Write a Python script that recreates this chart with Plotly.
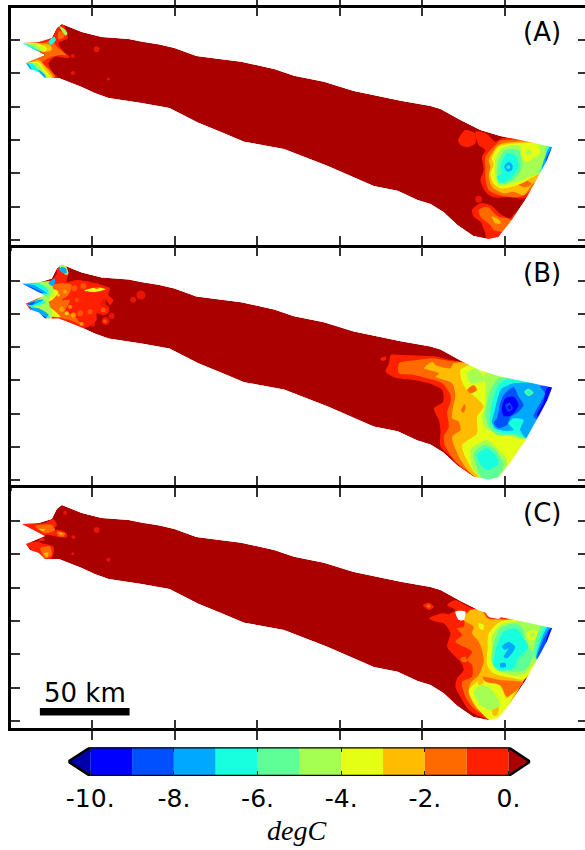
import plotly.graph_objects as go

# ---- colour classes of the map (degC), lowest to highest ----
LEVELS = [-10, -9, -8, -7, -6, -5, -4, -3, -2, -1, 0]
BAND_COLORS = ["#0000ff", "#0050ff", "#00a8ff", "#18ffe0", "#5fff98",
               "#a5ff52", "#e5ff14", "#ffbc00", "#ff6a00", "#ff2000"]
UNDER_COLOR = "#0000aa"
OVER_COLOR = "#aa0000"
CB_TICKS = [-10, -8, -6, -4, -2, 0]
CB_LABELS = ["-10.", "-8.", "-6.", "-4.", "-2.", "0."]
BAND = {"U": 0, "B": 1, "S": 2, "C": 3, "M": 4, "L": 5, "Y": 6, "G": 7, "O": 8, "R": 9}

# ---- glacier outline, digitised (map units, panel A) ----
OUTLINE_X = [60, 70, 80, 100, 127, 140, 158, 173, 184, 195, 218, 240, 273, 293, 323, 353, 400, 430, 440, 460, 480, 500, 520, 537, 552,
             547, 540, 525, 510, 498, 488, 473, 457, 443, 430, 417, 397, 373, 350, 327, 283, 243, 220, 197, 168, 140,
             107, 93, 80, 57, 43, 37, 28, 24, 43, 20, 37, 50, 55]
OUTLINE_Y = [24, 28, 32, 37, 39, 41.7, 44.5, 48, 52, 56, 59, 61.7, 69, 75.7, 81.7, 91, 100.7, 106, 109, 120, 130, 136, 140, 143.5, 147,
             160, 173, 200, 222, 237, 239, 236, 225, 212, 204, 200, 190.7, 186, 176, 166, 149, 141.7, 132, 122.7, 108, 103,
             98, 93, 87, 78, 78, 72, 69, 63, 55, 43, 42, 38, 28]
PANEL_SHIFT = {"A": 0.0, "B": 240.5, "C": 481.0}

# ---- filled contour regions: (class, [(x, y), ...]) digitised, painter's order ----
A_EAST = [
    ("R", [(135,65),(165,68),(195,95),(215,85),(280,85),(380,100),(340,200),(285,265),(240,262),(190,262),(165,245),(150,210),(160,180),(155,140),(165,120),(145,105)]),
    ("R", [(83,90),(105,60),(133,70),(135,100),(112,112),(90,105)]),
    ("R", [(125,300),(150,280),(180,285),(215,315),(240,325),(255,310),(300,310),(230,410),(170,395),(165,370),(150,335),(130,320)]),
    ("O", [(165,140),(195,105),(210,92),(265,90),(380,105),(340,195),(285,255),(260,262),(205,255),(175,240),(165,205),(165,175)]),
    ("O", [(145,300),(170,290),(205,320),(230,325),(250,335),(225,365),(190,360),(180,345),(150,320)]),
    ("G", [(175,150),(205,105),(265,95),(380,108),(340,190),(305,225),(280,255),(250,245),(220,250),(185,230),(175,195),(180,170)]),
    ("G", [(185,320),(200,325),(212,340),(195,340)]),
    ("O", [(262,222),(290,212),(305,222),(285,232)]),
    ("Y", [(185,145),(205,110),(265,100),(380,108),(335,185),(300,205),(285,215),(245,230),(210,235),(190,220),(180,190),(190,165)]),
    ("L", [(195,150),(215,115),(265,105),(280,130),(290,150),(330,130),(325,100),(380,108),(330,190),(300,200),(245,220),(205,225),(195,195)]),
    ("Y", [(272,125),(295,108),(322,112),(315,135),(295,155),(280,150)]),
    ("L", [(285,125),(300,120),(305,130),(290,135)]),
    ("M", [(205,150),(225,120),(265,120),(275,150),(275,175),(250,210),(215,220),(200,195)]),
    ("M", [(350,105),(380,105),(340,175),(325,190),(345,140)]),
    ("C", [(210,170),(230,130),(255,135),(265,165),(255,190),(235,210),(210,220),(200,200),(215,190)]),
    ("C", [(355,108),(380,105),(345,170),(330,190),(345,150)]),
    ("S", [(222,170),(235,155),(247,165),(245,180),(232,185)]),
    ("S", [(358,112),(380,105),(340,185),(335,180)]),
    ("C", [(228,170),(235,165),(240,172),(233,178)]),
    ("B", [(360,120),(380,105),(352,155),(347,150)]),
]
A_EAST_DOTS = [("R", 145, 268, 7)]

A_WEST = [
    ("R", [(165,85),(185,75),(198,115),(170,130),(190,160),(205,170),(195,174),(160,170),(140,190),(150,215),(170,235),(145,242),(120,235),(70,210),(60,188),(130,165),(50,130),(110,120),(150,112),(160,100)]),
    ("O", [(170,95),(182,95),(188,110),(170,118)]),
    ("O", [(105,132),(150,125),(170,145),(195,165),(175,165),(150,170),(130,180),(120,190),(140,205),(160,230),(150,237),(125,235),(70,210),(60,188),(130,165),(55,130)]),
    ("G", [(100,128),(145,135),(150,150),(130,155),(60,130)]),
    ("G", [(80,190),(110,180),(135,205),(155,235),(125,238),(70,210)]),
    ("Y", [(60,130),(105,130),(135,145),(130,155),(115,152)]),
    ("Y", [(70,192),(110,187),(130,210),(148,235),(125,238),(70,210)]),
    ("L", [(172,78),(185,85),(197,100),(192,107),(180,92)]),
    ("L", [(55,130),(100,133),(125,155),(115,152)]),
    ("L", [(65,190),(105,190),(125,215),(140,235),(120,235),(75,212)]),
    ("C", [(50,130),(85,136),(115,155),(90,148)]),
    ("C", [(65,190),(90,190),(120,220),(130,235),(120,235),(75,212)]),
    ("C", [(140,125),(158,110),(162,120),(148,135)]),
    ("S", [(50,130),(75,138),(110,153),(90,150)]),
    ("S", [(65,190),(80,192),(90,210),(75,212)]),
    ("S", [(110,210),(130,225),(130,235),(115,232)]),
]
A_WEST_DOTS = [("R", 285, 148, 6), ("R", 213, 168, 4), ("R", 213, 219, 4), ("R", 320, 237, 3)]

B_EAST = [
    ("R", [(60,45),(85,45),(200,50),(240,60),(300,70),(400,105),(560,135),(470,320),(400,430),(350,430),(280,390),(240,350),(210,320),(210,270),(205,240),(190,205),(218,185),(215,150),(175,130),(130,120),(80,115),(45,95),(55,70)]),
    ("R", [(30,55),(45,50),(45,60),(32,62)]),
    ("O", [(85,70),(140,60),(185,55),(230,62),(290,70),(400,105),(560,135),(470,320),(400,430),(350,430),(310,405),(260,370),(225,320),(220,290),(235,260),(230,215),(240,185),(240,165),(215,130),(170,115),(130,105),(85,100)]),
    ("G", [(160,85),(185,65),(195,75),(240,85),(250,70),(300,70),(400,105),(560,135),(470,320),(400,430),(350,430),(300,400),(265,350),(245,290),(270,270),(265,245),(245,235),(248,200),(255,165),(245,130),(205,115),(195,110),(205,100),(175,90)]),
    ("Y", [(270,90),(300,75),(400,105),(560,135),(470,320),(400,430),(350,430),(310,395),(280,340),(275,315),(320,280),(320,230),(340,200),(325,180),(290,150),(275,125)]),
    ("G", [(265,215),(280,185),(290,200),(285,225)]),
    ("O", [(272,212),(282,192),(286,202),(280,218)]),
    ("L", [(290,100),(315,85),(345,120),(300,130)]),
    ("L", [(345,100),(560,135),(480,295),(390,280),(345,265),(335,230),(345,200),(345,140)]),
    ("L", [(300,330),(325,310),(350,300),(375,320),(410,360),(405,390),(350,430),(310,390)]),
    ("O", [(290,150),(310,135),(320,150),(300,160)]),
    ("M", [(350,190),(360,150),(385,115),(410,110),(560,135),(480,295),(420,285),(380,285),(355,260),(345,225)]),
    ("M", [(310,340),(340,315),(370,325),(395,360),(400,375),(380,415),(350,430),(325,395)]),
    ("C", [(360,220),(370,170),(385,135),(410,118),(470,125),(560,135),(475,295),(445,285),(430,280),(400,280),(375,270),(360,245)]),
    ("C", [(320,345),(350,325),(375,345),(385,370),(355,390),(335,380)]),
    ("S", [(370,225),(385,165),(395,145),(430,130),(470,128),(560,135),(470,295),(450,270),(460,240),(430,235),(415,250),(430,270),(400,272),(375,265),(365,245)]),
    ("M", [(462,155),(475,146),(490,158),(475,168)]),
    ("C", [(467,156),(475,151),(483,158),(475,163)]),
    ("B", [(380,235),(390,190),(400,165),(430,142),(445,170),(460,195),(445,215),(420,232),(410,255),(385,265),(370,250)]),
    ("B", [(510,140),(560,135),(505,238),(490,230),(510,190),(525,160)]),
    ("U", [(395,205),(405,175),(430,170),(445,195),(425,225),(400,228)]),
    ("U", [(530,145),(560,135),(505,232),(500,225),(520,185)]),
    ("B", [(405,195),(418,188),(428,205),(415,215)]),
    ("U", [(411,200),(418,195),(423,205),(416,210)]),
]
B_EAST_DOTS = []

B_WEST = [
    ("R", [(165,55),(190,45),(200,70),(195,95),(230,90),(300,105),(325,115),(320,135),(335,150),(325,165),(310,145),(295,165),(320,175),(322,185),(305,195),(285,190),(285,210),(260,230),(235,235),(200,215),(155,210),(120,210),(65,165),(130,130),(50,100),(110,95),(150,90),(165,70)]),
    ("O", [(85,100),(150,105),(175,100),(210,105),(200,135),(180,150),(205,150),(190,185),(215,195),(240,225),(205,210),(155,200),(130,195),(85,165),(130,130)]),
    ("Y", [(60,103),(130,112),(170,125),(150,150),(120,160),(130,130)]),
    ("Y", [(85,168),(120,160),(155,180),(175,200),(155,200),(130,195)]),
    ("Y", [(248,122),(285,112),(312,118),(280,126)]),
    ("L", [(60,103),(105,97),(145,95),(155,125),(140,150),(150,185),(150,205),(130,205),(105,180),(80,165),(125,135)]),
    ("M", [(60,103),(110,100),(140,115),(140,140),(125,135)]),
    ("C", [(60,103),(110,100),(140,125),(125,135)]),
    ("C", [(75,162),(120,148),(130,160),(95,170),(145,200),(125,205),(100,180)]),
    ("L", [(175,45),(190,45),(200,70),(195,75),(175,60)]),
    ("S", [(180,50),(192,55),(195,70),(187,70),(172,60)]),
    ("S", [(60,103),(95,105),(135,130),(105,125)]),
    ("S", [(75,162),(110,150),(125,150),(90,165)]),
    ("S", [(85,175),(110,175),(140,195),(125,205)]),
    ("S", [(140,100),(158,85),(160,100),(150,108)]),
    ("B", [(60,103),(85,110),(125,130),(100,125)]),
    ("B", [(75,162),(100,155),(90,165)]),
    ("B", [(105,185),(120,195),(135,203),(120,205)]),
]
B_WEST_DOTS = [("R", 418, 135, 9), ("R", 395, 149, 6), ("R", 273, 223, 5),
               ("R", 300, 152, 10), ("R", 307, 178, 11), ("R", 312, 213, 8), ("R", 330, 198, 6),
               ("R", 255, 105, 8), ("R", 285, 108, 6), ("R", 230, 110, 7), ("R", 240, 205, 9),
               ("O", 218, 115, 6), ("O", 245, 108, 6), ("O", 305, 180, 5), ("O", 310, 214, 4),
               ("O", 235, 190, 6), ("O", 265, 185, 5), ("O", 225, 150, 4),
               ("G", 205, 170, 4), ("G", 215, 195, 5), ("G", 240, 222, 4), ("G", 190, 125, 4), ("G", 180, 178, 5),
               ("Y", 195, 190, 4), ("Y", 170, 135, 3)]

C_EAST = [
    ("R", [(140,45),(165,30),(195,45),(215,55),(255,62),(290,80),(350,88),(470,110),(365,280),(290,400),(250,385),(205,360),(180,320),(165,290),(170,265),(190,240),(180,215),(165,200),(140,170),(150,130),(130,100),(105,95),(85,85),(125,70),(145,72),(165,60)]),
    ("R", [(67,45),(85,38),(100,50),(85,60)]),
    ("O", [(170,115),(190,110),(195,70),(245,55),(265,85),(330,88),(470,110),(365,280),(290,400),(255,380),(215,350),(195,320),(185,275),(215,260),(215,225),(200,210),(215,185),(165,155),(185,135)]),
    ("O", [(78,47),(85,43),(90,50),(84,54)]),
    ("O", [(180,205),(195,200),(200,215),(185,215)]),
    ("G", [(190,90),(210,60),(245,62),(260,85),(330,90),(470,110),(365,280),(290,400),(260,380),(225,350),(205,310),(210,280),(235,255),(250,215),(245,180),(235,155),(215,130),(220,110)]),
    ("Y", [(265,130),(300,95),(350,88),(470,110),(372,268),(340,265),(280,250),(260,225),(262,175)]),
    ("Y", [(205,300),(225,280),(250,260),(300,290),(320,325),(350,290),(290,400),(260,385),(225,345)]),
    ("Y", [(235,100),(250,105),(248,120),(237,115)]),
    ("O", [(245,260),(300,270),(368,278),(320,320),(300,285),(255,275)]),
    ("G", [(232,265),(245,258),(250,280),(235,285)]),
    ("G", [(275,360),(295,352),(292,375),(280,378)]),
    ("L", [(275,140),(300,105),(350,95),(470,110),(375,250),(350,258),(290,240),(272,215),(275,175)]),
    ("L", [(220,305),(245,285),(275,300),(300,345),(270,360),(240,345)]),
    ("Y", [(380,130),(395,120),(418,125),(400,150),(385,150)]),
    ("L", [(388,132),(400,127),(405,135),(393,142)]),
    ("M", [(280,160),(300,115),(345,100),(370,118),(375,165),(400,190),(375,240),(340,245),(290,240),(275,215)]),
    ("M", [(425,105),(470,110),(415,195),(400,190)]),
    ("C", [(280,225),(290,165),(310,125),(345,115),(375,150),(385,170),(370,190),(355,205),(340,235),(300,240)]),
    ("C", [(435,110),(470,110),(415,205),(405,205)]),
    ("S", [(305,170),(325,155),(345,170),(335,190),(320,205),(310,200),(325,175),(315,180)]),
    ("S", [(300,220),(315,218),(317,230),(300,232)]),
    ("S", [(442,112),(470,110),(412,210),(408,205)]),
    ("B", [(447,118),(470,110),(415,205),(410,203)]),
    ("U", [(450,118),(470,110),(440,165),(437,160)]),
    ("W", [(165,65),(195,65),(190,90),(175,90)]),
    ("W", [(255,62),(300,70),(300,85),(265,80)]),
]
C_EAST_DOTS = []

C_WEST = [
    ("R", [(50,100),(125,100),(155,88),(165,105),(150,120),(175,120),(195,130),(195,142),(165,140),(130,135),(110,155),(155,170),(150,205),(125,207),(90,180),(65,160),(130,150)]),
    ("O", [(100,108),(150,105),(160,120),(130,130)]),
    ("O", [(165,125),(190,130),(185,140),(170,138)]),
    ("O", [(115,175),(145,170),(150,195),(130,205)]),
    ("G", [(110,117),(130,117),(125,124)]),
    ("G", [(125,190),(140,188),(135,202)]),
    ("G", [(172,128),(182,130),(178,136)]),
]
C_WEST_DOTS = [("R", 285, 120, 6), ("R", 190, 68, 4), ("R", 215, 142, 4), ("R", 213, 191, 3), ("R", 320, 209, 4)]

# region list: panel, crop origin, regions, dots
REGIONS = [
    ("A", 0, 0, A_WEST, A_WEST_DOTS), ("A", 430, 110, A_EAST, A_EAST_DOTS),
    ("B", 0, 250, B_WEST, B_WEST_DOTS), ("B", 370, 340, B_EAST, B_EAST_DOTS),
    ("C", 0, 490, C_WEST, C_WEST_DOTS), ("C", 400, 590, C_EAST, C_EAST_DOTS),
]
PANEL_LABELS = {"A": "(A)", "B": "(B)", "C": "(C)"}
SCALE_KM = 50
SCALE_TEXT = "50 km"
UNITS = "degC"

# ---- layout (page of 585 x 850) ----
W, H = 585, 850
LEFT = 9.5
PANEL_EDGES = {"A": (7.5, 247.5), "B": (247.5, 488.0), "C": (488.0, 728.3)}
XTICK0, XDTICK = 90.5, 82.8
YTICK0 = {"A": 40.0, "B": 280.5, "C": 521.0}
YDTICK = 33.3
TICKC = "#333333"
FONT = "DejaVu Sans"

def cls_color(c):
    if c == "X":
        return OVER_COLOR
    if c == "W":
        return "#ffffff"
    return BAND_COLORS[BAND[c]]

fig = go.Figure()
axis_id = {"A": "", "B": "2", "C": "3"}

def add_poly(xs, ys, color, p, smooth=False):
    line = dict(width=0, color=color)
    if smooth:
        line.update(shape="spline", smoothing=0.7)
    fig.add_trace(go.Scatter(x=xs, y=ys, mode="lines", fill="toself", fillcolor=color,
                             line=line, hoverinfo="skip", showlegend=False,
                             xaxis="x" + axis_id[p], yaxis="y" + axis_id[p]))

for p in "ABC":
    s = PANEL_SHIFT[p]
    ox = list(OUTLINE_X) + [OUTLINE_X[0]]
    oy = [v + s for v in OUTLINE_Y] + [OUTLINE_Y[0] + s]
    add_poly(ox, oy, OVER_COLOR, p)
    for panel, cx, cy, regs, dots in REGIONS:
        if panel != p:
            continue
        for c, pts in regs:
            pts = list(pts) + [pts[0]]
            add_poly([cx + a / 3 for a, b in pts], [cy + b / 3 for a, b in pts], cls_color(c), p, smooth=True)
        if dots:
            fig.add_trace(go.Scatter(
                x=[cx + d[1] / 3 for d in dots], y=[cy + d[2] / 3 for d in dots], mode="markers",
                marker=dict(size=[d[3] for d in dots], color=[cls_color(d[0]) for d in dots], line=dict(width=0)),
                hoverinfo="skip", showlegend=False, xaxis="x" + axis_id[p], yaxis="y" + axis_id[p]))
    # white mask outside the glacier, drawn as a keyhole polygon wound against the frame
    top, bot = PANEL_EDGES[p]
    mx = [LEFT, LEFT, W, W, LEFT, LEFT] + ox[::-1] + [LEFT]
    my = [oy[0], top, top, bot, bot, oy[0]] + oy[::-1] + [oy[0]]
    add_poly(mx, my, "#ffffff", p)
    # invisible anchor for the right-hand tick axis
    fig.add_trace(go.Scatter(x=[LEFT], y=[top], mode="markers", marker=dict(size=1, opacity=0),
                             hoverinfo="skip", showlegend=False,
                             xaxis="x" + axis_id[p], yaxis="y" + {"A": "4", "B": "5", "C": "6"}[p]))

# scale bar, panel C
bar_x0 = 38.0
bar_y0, bar_y1 = 708.0, 715.5
fig.add_trace(go.Scatter(x=[bar_x0, bar_x0 + SCALE_KM * 1.8, bar_x0 + SCALE_KM * 1.8, bar_x0, bar_x0],
                         y=[bar_y0, bar_y0, bar_y1, bar_y1, bar_y0], mode="lines", fill="toself",
                         fillcolor="#000000", line=dict(width=0), hoverinfo="skip", showlegend=False,
                         xaxis="x3", yaxis="y3"))

# colour bar
for lo, hi, col in zip(LEVELS[:-1], LEVELS[1:], BAND_COLORS):
    fig.add_trace(go.Scatter(x=[lo, hi, hi, lo, lo], y=[0, 0, 1, 1, 0], mode="lines", fill="toself",
                             fillcolor=col, line=dict(width=0, color=col), hoverinfo="skip",
                             showlegend=False, xaxis="x4", yaxis="y7"))
CB_RANGE = (-10.525, 0.518)
for xs, col in (([-10, -10, CB_RANGE[0], -10], UNDER_COLOR), ([0, 0, CB_RANGE[1], 0], OVER_COLOR)):
    fig.add_trace(go.Scatter(x=xs, y=[0, 1, 0.5, 0], mode="lines", fill="toself", fillcolor=col,
                             line=dict(width=0, color=col), hoverinfo="skip", showlegend=False,
                             xaxis="x4", yaxis="y7"))
fig.add_trace(go.Scatter(x=[-10, 0, CB_RANGE[1], 0, -10, CB_RANGE[0], -10],
                         y=[1, 1, 0.5, 0, 0, 0.5, 1], mode="lines",
                         line=dict(width=2.5, color="#000000"), hoverinfo="skip", showlegend=False,
                         xaxis="x4", yaxis="y7", cliponaxis=False))

layout = dict(width=W, height=H, margin=dict(l=0, r=0, t=0, b=0), plot_bgcolor="#ffffff",
              paper_bgcolor="#ffffff", showlegend=False, font=dict(family=FONT, color="#000000"))

for p, n4 in zip("ABC", ("4", "5", "6")):
    top, bot = PANEL_EDGES[p]
    dom = [(H - bot) / H, (H - top) / H]
    i = axis_id[p]
    layout["xaxis" + i] = dict(domain=[LEFT / W, 1], range=[LEFT, W], anchor="y" + i, tick0=XTICK0, dtick=XDTICK,
                               ticks="inside", ticklen=9, tickwidth=1.5, tickcolor=TICKC, showticklabels=False,
                               showgrid=False, zeroline=False, showline=True, linewidth=2.5, linecolor="#000000",
                               mirror="allticks", layer="above traces")
    layout["yaxis" + i] = dict(domain=dom, range=[bot, top], anchor="x" + i, tick0=YTICK0[p], dtick=YDTICK,
                               ticks="inside", ticklen=9, tickwidth=1.5, tickcolor=TICKC, showticklabels=False,
                               showgrid=False, zeroline=False, showline=True, linewidth=2.5, linecolor="#000000",
                               layer="above traces")
    layout["yaxis" + n4] = dict(overlaying="y" + i, side="right", anchor="x" + i, range=[bot, top],
                                tick0=YTICK0[p], dtick=YDTICK, ticks="inside", ticklen=7, tickwidth=1.5,
                                tickcolor=TICKC, showticklabels=False, showgrid=False, zeroline=False,
                                showline=False)

layout["xaxis4"] = dict(domain=[66.5 / W, 530 / W], range=list(CB_RANGE), anchor="y7", tickmode="array",
                        tickvals=CB_TICKS, ticktext=CB_LABELS, ticks="inside", ticklen=5, tickwidth=1,
                        tickcolor="#222222", mirror="ticks", showline=False, showgrid=False, zeroline=False,
                        tickfont=dict(family=FONT, size=25, color="#000000"), ticklabelstandoff=5,
                        layer="above traces")
layout["yaxis7"] = dict(domain=[(H - 776) / H, (H - 747.3) / H], range=[0, 1], anchor="x4", showticklabels=False,
                        ticks="", showgrid=False, zeroline=False, showline=False)

notes = [dict(xref="paper", yref="paper", x=83.5 / W, y=1 - 693 / H, text=SCALE_TEXT, showarrow=False,
              font=dict(family=FONT, size=26, color="#000000"), xanchor="center", yanchor="middle"),
         dict(xref="paper", yref="paper", x=296 / W, y=1 - 830 / H, text="<i>" + UNITS + "</i>", showarrow=False,
              font=dict(family="Liberation Serif", size=28, color="#000000"), xanchor="center", yanchor="middle")]
for p, yc in zip("ABC", (32, 272.5, 513)):
    notes.append(dict(xref="paper", yref="paper", x=542 / W, y=1 - yc / H, text=PANEL_LABELS[p], showarrow=False,
                      font=dict(family=FONT, size=26, color="#000000"), xanchor="center", yanchor="middle"))
layout["annotations"] = notes
fig.update_layout(**layout)
fig.write_html("out.html", config=dict(displayModeBar=False),
               post_script="document.body.style.margin='0';document.documentElement.style.overflow='hidden';")
